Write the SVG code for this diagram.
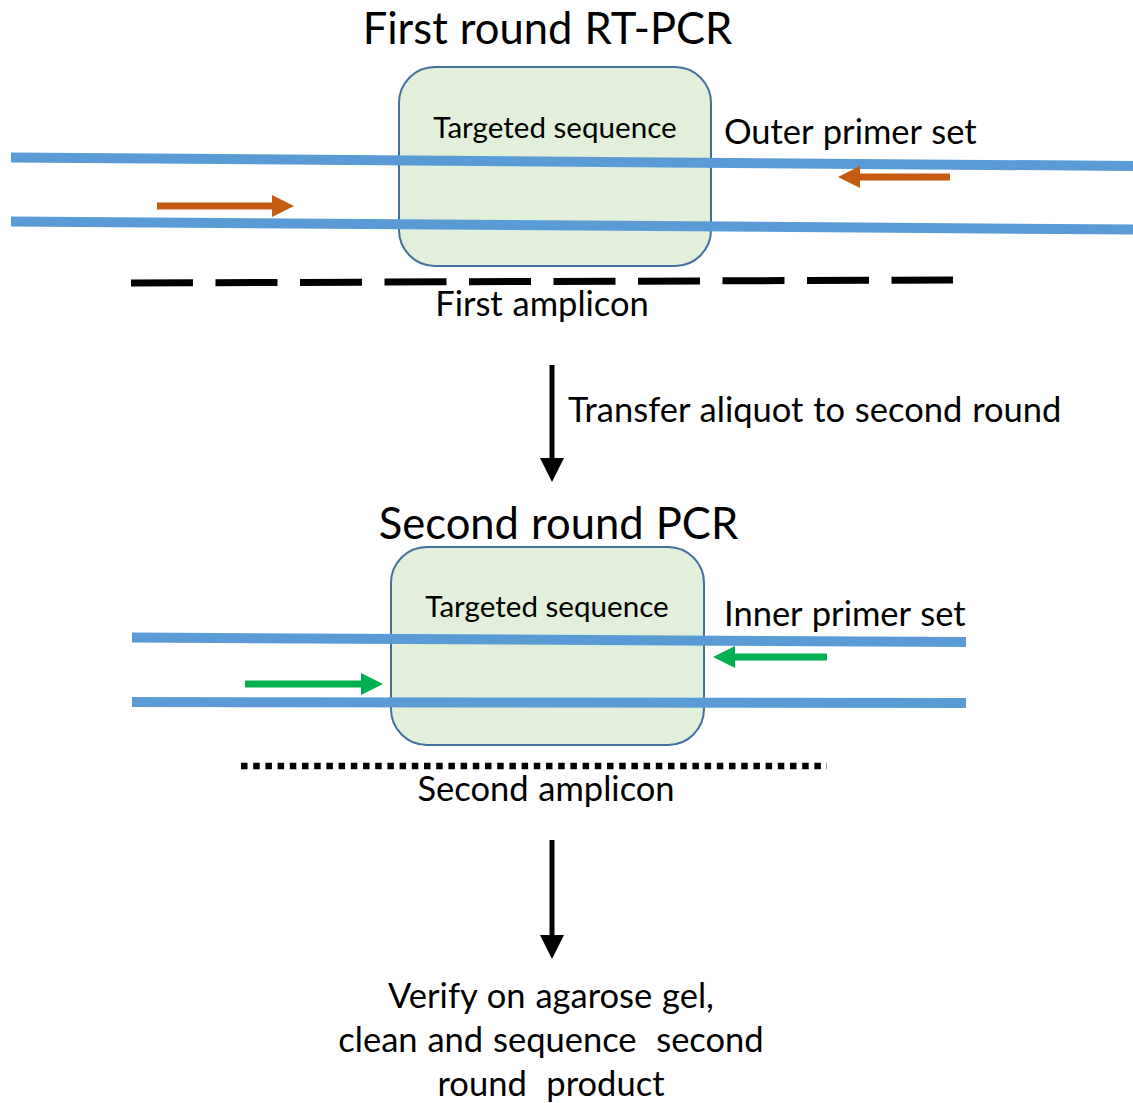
<svg xmlns="http://www.w3.org/2000/svg" width="1133" height="1103" viewBox="0 0 1133 1103">
<style>
text{font-family:Lato,"Open Sans","Noto Sans",sans-serif;fill:#000}
.title{font-size:43.5px;word-spacing:1px}
.body{font-size:34.5px;word-spacing:1px}
.seq{font-size:29.6px}
.box{fill:#E2EFDA;stroke:#41719C;stroke-width:2}
.strand{stroke:#5B9BD5;stroke-width:10;fill:none}
.orange{stroke:#C55A11;stroke-width:7;fill:none}
.green{stroke:#00B050;stroke-width:7;fill:none}
.flow{stroke:#000;stroke-width:5;fill:none}
</style>
<defs>
<marker id="hO" markerUnits="userSpaceOnUse" markerWidth="22" markerHeight="22" refX="0" refY="11" orient="auto"><path d="M0,0 L22,11 L0,22 z" fill="#C55A11"/></marker>
<marker id="hG" markerUnits="userSpaceOnUse" markerWidth="22" markerHeight="22" refX="0" refY="11" orient="auto"><path d="M0,0 L22,11 L0,22 z" fill="#00B050"/></marker>
<marker id="hK" markerUnits="userSpaceOnUse" markerWidth="24" markerHeight="24" refX="0" refY="12" orient="auto"><path d="M0,0 L24,12 L0,24 z" fill="#000"/></marker>
</defs>

<g id="round1">
<text class="title" x="547.5" y="44" text-anchor="middle">First round RT-PCR</text>
<g id="target1">
<rect class="box" x="399" y="67" width="312" height="199" rx="36"/>
<text class="seq" x="555" y="138" text-anchor="middle">Targeted sequence</text>
</g>
<g id="strands1">
<line class="strand" x1="11" y1="157.5" x2="1133" y2="166"/>
<line class="strand" x1="11" y1="221.5" x2="1133" y2="229.5"/>
</g>
<text class="body" x="724" y="144">Outer primer set</text>
<line id="amplicon1" x1="131" y1="283" x2="953" y2="280" stroke="#000" stroke-width="7" stroke-dasharray="62 22.5"/>
<text class="body" x="542" y="316" text-anchor="middle">First amplicon</text>
</g>

<g id="round2">
<text class="title" x="558.5" y="539" text-anchor="middle">Second round PCR</text>
<g id="target2">
<rect class="box" x="391" y="547" width="313" height="198" rx="36"/>
<text class="seq" x="547" y="617" text-anchor="middle">Targeted sequence</text>
</g>
<g id="strands2">
<line class="strand" x1="132" y1="637.5" x2="966" y2="642"/>
<line class="strand" x1="132" y1="702" x2="966" y2="703"/>
</g>
<text class="body" x="724" y="626">Inner primer set</text>
<line id="amplicon2" x1="241" y1="766" x2="827" y2="766" stroke="#000" stroke-width="6.5" stroke-dasharray="6.5 5.7"/>
<text class="body" x="546" y="801" text-anchor="middle">Second amplicon</text>
</g>

<g id="result">
<text class="body" x="551" y="1008" text-anchor="middle">Verify on agarose gel,</text>
<text class="body" x="551" y="1052" text-anchor="middle" xml:space="preserve">clean and sequence  second</text>
<text class="body" x="551" y="1096" text-anchor="middle" xml:space="preserve">round  product</text>
</g>

<g id="connectors">
<line id="primerF1" class="orange" x1="157" y1="206" x2="272" y2="206" marker-end="url(#hO)"/>
<line id="primerR1" class="orange" x1="950" y1="177" x2="860" y2="177" marker-end="url(#hO)"/>
<line id="primerF2" class="green" x1="245" y1="684" x2="361" y2="684" marker-end="url(#hG)"/>
<line id="primerR2" class="green" x1="827" y1="657" x2="735" y2="657" marker-end="url(#hG)"/>
<line id="flow1" class="flow" x1="552" y1="365" x2="552" y2="458" marker-end="url(#hK)"/>
<text class="body" x="568" y="422">Transfer aliquot to second round</text>
<line id="flow2" class="flow" x1="552" y1="840" x2="552" y2="935" marker-end="url(#hK)"/>
</g>
</svg>
